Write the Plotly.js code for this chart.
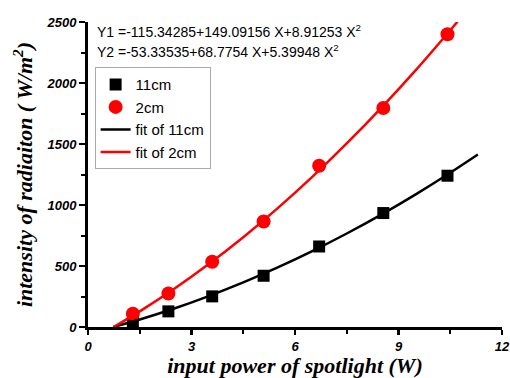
<!DOCTYPE html>
<html><head><meta charset="utf-8">
<script src="https://cdn.plot.ly/plotly-3.0.1.min.js"></script>
<style>html,body{margin:0;padding:0;background:#fff}#c{width:510px;height:378px}</style>
</head><body><div id="c"></div>
<script>
// measured points
const xPts = [1.3, 2.33, 3.6, 5.09, 6.7, 8.56, 10.42];
const y11cm = [35, 128, 251, 420, 660, 934, 1240];
const y2cm = [109, 275, 535, 865, 1322, 1795, 2400];
// fitted curves (values of the printed quadratic fits)
const xFit11 = [0.73, 1.5, 2.5, 3.5, 4.5, 5.5, 6.5, 7.5, 8.5, 9.5, 10.5, 11.3];
const yFit11 = [0, 62, 152, 253.5, 365.5, 488.3, 621.8, 766.2, 921.4, 1087.3, 1264.1, 1413.3];
const xFit2 = [0.74, 1.5, 2.5, 3.5, 4.5, 5.5, 6.5, 7.5, 8.5, 9.5, 10.5, 10.75];
const yFit2 = [0, 128.3, 313.1, 515.7, 736.0, 974.3, 1230.3, 1504.2, 1795.9, 2105.4, 2432.7, 2517];
const eq1 = 'Y1 =-115.34285+149.09156 X+8.91253 X<sup>2</sup>';
const eq2 = 'Y2 =-53.33535+68.7754 X+5.39948 X<sup>2</sup>';

const traces = [
  {x:xPts, y:y11cm, name:'11cm', mode:'markers', type:'scatter',
   marker:{symbol:'square', size:12, color:'#000'}},
  {x:xPts, y:y2cm, name:'2cm', mode:'markers', type:'scatter',
   marker:{symbol:'circle', size:14, color:'#ff0000'}},
  {x:xFit11, y:yFit11, name:'fit of 11cm', mode:'lines', type:'scatter',
   line:{color:'#000', width:2.5, shape:'spline'}},
  {x:xFit2, y:yFit2, name:'fit of 2cm', mode:'lines', type:'scatter',
   line:{color:'#ff0000', width:2.5, shape:'spline'}}
];
const tickFont = {family:'Liberation Sans, Arial', size:13, color:'#000', weight:'bold', style:'italic'};
const titleFont = {family:'Liberation Serif, Times New Roman', size:22, color:'#000', weight:'bold', style:'italic'};
const layout = {
  width:510, height:378,
  margin:{l:88, r:8, t:22, b:51},
  paper_bgcolor:'#fff', plot_bgcolor:'#fff',
  showlegend:true,
  legend:{x:0.016, y:0.852, xanchor:'left', yanchor:'top', bgcolor:'#fff',
    bordercolor:'#aaa', borderwidth:1, font:{family:'Liberation Sans, Arial', size:15, color:'#000'},
    tracegroupgap:0, itemwidth:30},
  xaxis:{range:[0,12], tickvals:[0,3,6,9,12], showgrid:false, zeroline:false,
    showline:true, linecolor:'#000', linewidth:3, ticks:'outside', ticklen:5, tickwidth:2.5, tickcolor:'#000',
    minor:{tickvals:[1.5,4.5,7.5,10.5], ticks:'outside', ticklen:4, tickwidth:2, tickcolor:'#000'},
    tickfont:tickFont, fixedrange:true,
    title:{text:'input power of spotlight (W)', font:titleFont, standoff:7}},
  yaxis:{range:[0,2500], tickvals:[0,500,1000,1500,2000,2500], showgrid:false, zeroline:false,
    showline:true, linecolor:'#000', linewidth:3, ticks:'outside', ticklen:6, tickwidth:2.5, tickcolor:'#000',
    minor:{tickvals:[250,750,1250,1750,2250], ticks:'outside', ticklen:4, tickwidth:2, tickcolor:'#000'},
    tickfont:tickFont, fixedrange:true,
    title:{text:'intensity of radiaiton ( W/m<sup>2</sup>)', font:titleFont, standoff:8}},
  annotations:[
    {xref:'paper', yref:'paper', x:0.018, y:0.972, xanchor:'left', yanchor:'middle', text:eq1, showarrow:false,
     font:{family:'Liberation Sans, Arial', size:14, color:'#000'}},
    {xref:'paper', yref:'paper', x:0.018, y:0.905, xanchor:'left', yanchor:'middle', text:eq2, showarrow:false,
     font:{family:'Liberation Sans, Arial', size:14, color:'#000'}}
  ]
};
Plotly.newPlot('c', traces, layout, {displayModeBar:false, staticPlot:true});
</script></body></html>
